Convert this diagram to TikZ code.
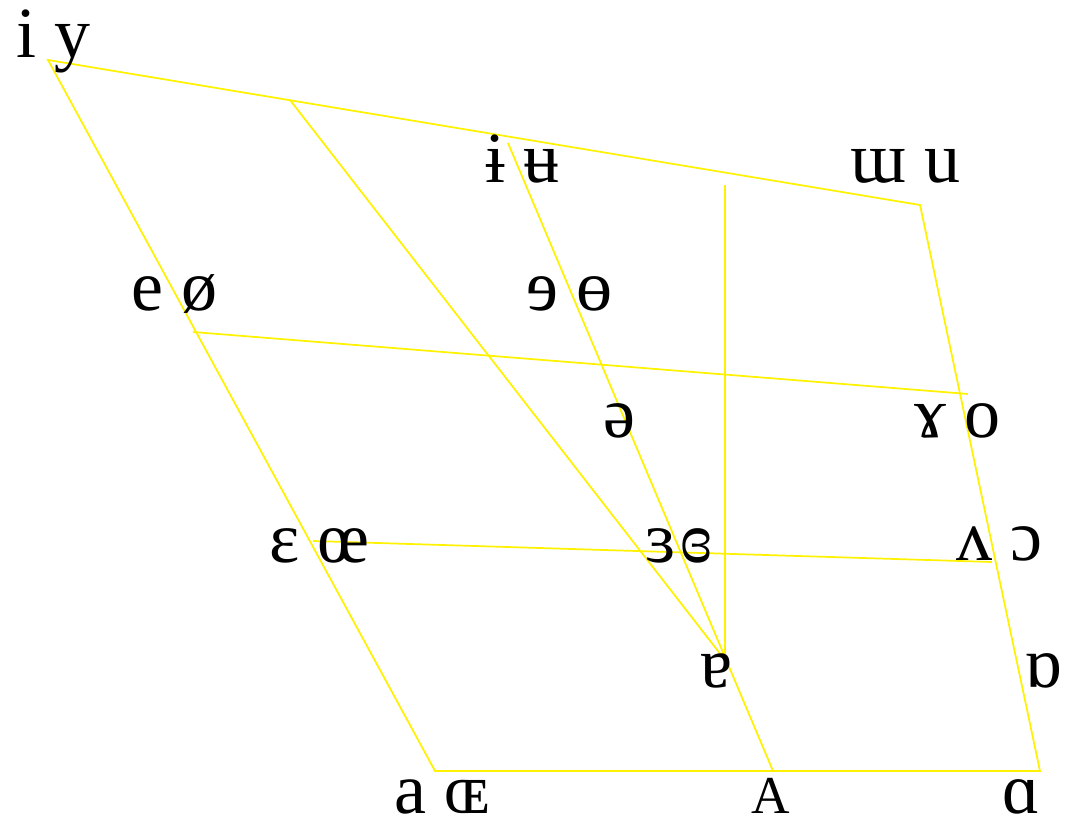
\documentclass[tikz,border=0pt]{standalone}
\usepackage{fontspec}
\setmainfont{Liberation Serif}
\usetikzlibrary{positioning}
\tikzset{
  edge/.style={draw=yellow,line width=1.3pt},
  vwl/.style={anchor=base west,inner sep=0pt,font=\fontsize{54}{64}\selectfont},
  smvwl/.style={vwl,font=\fontsize{40}{48}\selectfont}
}

\begin{document}
\begin{tikzpicture}[x=0.75pt,y=-0.75pt]
  \useasboundingbox (0,0) rectangle (1068,827);
  % chart corners and grid points
  \coordinate (fc) at (48,60);
  \coordinate (bc) at (920,205);
  \coordinate (bo) at (1040,771);
  \coordinate (fo) at (435,771);
  \coordinate (tq) at (290,100);
  \coordinate (cc) at (508,143);
  \coordinate (co) at (773,771);
  \coordinate (nop) at (725,660);
  \coordinate (vtop) at (725,185);
  \coordinate (cmf) at (193,332);
  \coordinate (cmb) at (968,394);
  \coordinate (omf) at (313,541);
  \coordinate (omb) at (992,562);

  \draw[edge] (fc) -- (bc) -- (bo) -- (fo) -- cycle;
  \draw[edge] (tq) -- (nop);
  \draw[edge] (cc) -- (co);
  \draw[edge] (vtop) -- (nop);
  \draw[edge] (cmf) -- (cmb);
  \draw[edge] (omf) -- (omb);

  % vowel symbols
  \node[vwl] (iy) at (16,58) {i y};
  \node[vwl] (ibu) at (485,183) {ɨ ʉ};
  \node[vwl] (wu) at (850,183) {ɯ u};
  \node[vwl] (eo) at (131,311) {e ø};
  \node[vwl] (rerb) at (526,311) {ɘ ɵ};
  \node[vwl] (go) at (914,437) {ɤ o};
  \node[vwl] (schwa) at (603,437) {ə};
  \node[vwl] (eoe) at (269,562) {ɛ œ};
  \node[vwl] (rcrb) at (645,562) {ɜ\hspace{4pt}ɞ};
  \node[vwl] (vo) at (956,560) {ʌ ɔ};
  \node[vwl] (ta) at (700,687) {ɐ};
  \node[vwl] (ra) at (1024,687) {ɒ};
  \node[vwl] (aoe) at (394,813) {a ɶ};
  \node[smvwl] (capa) at (751,813) {A};
  \node[vwl] (sa) at (1002,813) {ɑ};
\end{tikzpicture}
\end{document}
